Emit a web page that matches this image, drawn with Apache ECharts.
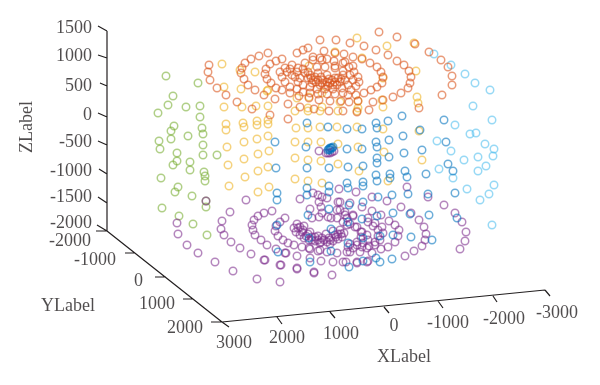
<!DOCTYPE html>
<html><head><meta charset="utf-8">
<style>html,body{margin:0;padding:0;background:#fff}#c{width:600px;height:385px}</style>
<script src="https://cdn.jsdelivr.net/npm/echarts@6/dist/echarts.min.js"></script>
</head><body><div id="c"></div>
<script>
// Sphere points, in projected plot units.
const greenPoints=[[166,76],[198,83],[173,96],[168,105],[158,113],[186,107],[200,106],[200,117],[174,126],[202,128],[171,131],[203,134],[188,136],[171,139],[159,141],[160,149],[203,145],[177,153],[203,155],[217,155],[177,161],[173,165],[190,162],[190,170],[204,172],[205,176],[205,181],[161,178],[178,187],[175,192],[192,196],[206,201],[206,207],[162,208],[179,216],[193,224],[207,235]];
const yellowPoints=[[222,64],[255,72],[240,70],[224,87],[241,89],[268,90],[224,107],[242,107],[256,106],[268,106],[226,124],[226,130],[243,123],[244,127],[257,121],[257,125],[268,120],[268,124],[244,142],[257,139],[268,136],[227,147],[258,154],[269,151],[244,159],[228,165],[258,171],[245,177],[268,167],[229,186],[258,192],[269,187],
[296,128],[308,128],[320,127],[337,127],[357,127],[295,142],[308,142],[321,142],[338,144],[358,147],[295,158],[308,160],[321,161],[338,164],[359,171],[295,179],[308,181],[322,183],[295,111],[308,111],[320,111],[338,111],[357,111],[297,98],[309,97],[322,93],[340,102],[358,101],[382,100],[322,107],[308,108],[358,108],[383,107],[309,66],[335,52],[357,38],[387,46],[414,43],[416,71],[417,97],[418,103],[383,78],[362,58],[383,129],[419,131],[384,152],[422,160],[388,181],[267,91]];
const lightBluePoints=[[437,141],[455,125],[451,151],[470,134],[476,133],[485,144],[494,149],[493,156],[478,157],[464,160],[492,120],[473,106],[490,90],[475,83],[465,74],[451,65],[434,54],[439,169],[453,178],[486,166],[478,171],[494,185],[489,194],[480,200],[467,189],[492,225]];
const purplePoints=[[206,201],[246,200],[230,212],[222,221],[221,229],[224,235],[231,242],[240,248],[251,254],[264,260],[281,265],[297,269],[314,272],[332,275],[177,223],[178,234],[187,245],[198,253],[215,262],[233,271],[257,279],[280,282],
[272,211],[264,213],[258,216],[254,220],[252,225],[253,230],[255,235],[261,240],[267,245],[276,249],[286,253],[297,256],[310,258],[321,261],[333,262],[343,262],
[285,218],[280,222],[276,226],[275,231],[278,236],[283,240],[288,243],[294,245],[302,247],[310,249],[318,251],[327,252],[337,253],[347,252],
[297,224],[294,228],[296,232],[300,235],[304,238],[309,240],[315,241],[321,242],[327,242],[333,241],[338,239],[342,237],[344,233],[340,230],[335,235],[329,238],[322,238],[315,237],[308,234],[303,230],[300,227],[304,226],[310,232],[318,236],[326,234],[333,231],[338,234],[312,240],[320,243],[330,244],[298,228],[302,232],[306,236],[312,237],[318,240],[324,240],[330,240],[336,237],[341,234],
[300,199],[313,193],[319,202],[327,198],[339,189],[338,202],[321,207],[310,209],[319,217],[331,218],[340,210],[347,218],[322,197],[312,218],[318,195],
[337,210],[345,215],[353,215],[368,218],[375,223],[382,227],[383,233],[380,240],[375,245],[367,248],[360,252],[350,252],[322,213],[328,217],[337,218],[347,225],[355,227],[362,232],[367,235],[368,240],[363,243],[357,245],[348,247],
[265,260],[280,265],[297,268],[314,273],[357,262],[367,262],[320,250],[309,248],[285,253],
[407,187],[428,197],[444,205],[455,213],[462,222],[466,232],[465,241],[460,249],[356,192],[372,197],[387,201],[401,207],[411,213],[419,220],[424,227],[426,234],[425,240],[422,246],[414,251],[405,256],[388,247],[381,249],[372,253],[368,261],[357,263],[346,262],
[350,203],[362,207],[372,211],[381,215],[389,221],[395,225],[399,230],[398,236],[395,242],[345,212],[353,216],[368,222],[373,226],[378,230],[378,236],[375,242],[369,246],[362,247],[353,248],[340,202],
[343,222],[350,224],[357,227],[361,232],[361,237],[357,242],[350,244],
[319,151],[326,153],[328,153],[330,153],[332,152],[334,151]];
const bluePoints=[[307,123],[328,127],[347,129],[362,129],[376,123],[377,128],[388,121],[402,116],[275,142],[306,147],[347,149],[362,149],[376,142],[377,147],[389,140],[403,136],[404,153],[389,157],[377,158],[377,163],[420,130],[422,150],[444,120],[446,142],
[276,168],[307,168],[329,168],[348,167],[363,166],[405,171],[407,177],[390,174],[390,178],[376,175],[377,181],[363,182],[363,186],[347,183],[348,188],[408,194],[392,195],[378,197],[363,202],[349,205],[428,194],[455,193],[448,164],[453,171],[426,174],
[277,193],[277,200],[307,188],[307,195],[329,186],[329,192],[329,209],[308,215],[277,225],[309,238],[331,229],[278,252],[310,262],[331,251],[348,243],[349,267],[429,215],[457,218],[410,214],[393,213],[377,216],[362,219],[348,222],[411,237],[432,240],[393,235],[380,236],[363,238],[392,259],[380,262],[376,258],[363,261],
[329,149],[330,148],[331,148],[332,148],[333,147],[328,150],[330,150]];
const orangePoints=[[209,65],[208,72],[210,80],[217,88],[226,95],[237,102],[252,109],[270,115],[288,119],
[268,53],[259,56],[251,59],[245,63],[242,68],[241,73],[244,79],[248,85],[255,90],[264,95],[275,99],[288,104],[300,107],[314,109],[329,111],[343,111],
[282,59],[276,61],[270,64],[266,69],[265,74],[267,79],[271,83],[276,88],[282,90],[290,93],[299,96],[309,98],[319,100],[330,101],[341,101],
[297,53],[303,50],[308,48],[320,40],[336,40],[350,43],[313,57],[324,51],[335,53],[344,54],[353,57],[322,60],[334,61],[345,62],[353,66],
[379,32],[397,37],[415,44],[429,52],[441,60],[448,67],[452,76],[452,85],[442,95],[419,108],[364,46],[376,50],[388,55],[397,61],[404,65],[409,71],[411,77],[410,83],[408,88],[401,93],[393,97],[383,100],[373,102],[369,110],[358,101],[357,112],[349,102],
[362,59],[370,63],[377,67],[381,72],[383,77],[382,83],[377,87],[371,90],[364,93],[356,95],[348,95],
[280,72],[282,77],[285,82],[290,87],[297,89],[303,92],[310,93],[318,94],[327,94],[335,94],[343,93],[351,90],[356,86],[359,82],[358,77],[354,72],[349,67],[343,63],[335,66],[327,59],[285,68],[292,65],[298,68],[305,63],[313,60],[320,58],
[297,72],[295,77],[298,82],[303,85],[310,87],[317,89],[325,89],[333,89],[342,88],[348,85],[353,80],[350,75],[343,71],[335,68],[325,67],[317,67],[303,69],[287,72],[290,69],[292,75],[300,78],[305,73],
[308,72],[308,78],[313,80],[322,83],[330,83],[338,78],[343,75],[335,78],[327,75],[318,73],[315,77],[323,80],[332,80],[340,82],[345,80],[310,75],[318,80],[327,82],[335,82],[312,83],[320,85],[328,86],[337,85],[311,78],[316,82],[325,85],[333,85],[341,79],[329,79],[321,77]];

// Box edges and ticks.
const zAxisLine=[[107,31],[107,231]];
const yAxisLine=[[107,231],[222,322]];
const xAxisLine=[[222,322],[545,290]];
const zTicks=[[[98,26],[107,31]],[[98,55],[107,58]],[[100,83],[107,86]],[[98,113],[107,117]],[[98,141],[107,145]],[[99,169],[107,174]],[[98,197],[107,203]],[[97,225],[107,231]]];
const yTicks=[[[96,231],[107,231]],[[125,253],[135,253]],[[155,277],[166,277]],[[183,299],[193,299]],[[211,322],[222,322]]];
const xTicks=[[[222,322],[229,327]],[[277,317],[282,324]],[[330,312],[335,318]],[[384,307],[389,313]],[[438,301],[443,308]],[[493,296],[497,302]],[[545,290],[550,296]]];

// Tick labels: [x, y, text].
const zLabels=[[92,28,'1500'],[92,56,'1000'],[92,86,'500'],[92,115,'0'],[92,142,'-500'],[92,171,'-1000'],[92,197,'-1500'],[92,223,'-2000']];
const yLabels=[[91,241,'-2000'],[116,260,'-1000'],[143,281,'0'],[175,304,'1000'],[203,328,'2000']];
const xLabels=[[234,343,'3000'],[287,338,'2000'],[341,334,'1000'],[394,326,'0'],[448,323,'-1000'],[504,319,'-2000'],[557,313,'-3000']];
const axisTitles=[[404,357,'XLabel',0],[68,306,'YLabel',0],[27,127,'ZLabel',90]];

const ink='#231f20', fontSize=18, fontFamily='"Liberation Serif", serif';
const joined=lists=>lists.flatMap((l,i)=>i?[['-','-'],...l]:l);
const ring=(name,data,color)=>({type:'scatter',name,data,symbol:'circle',symbolSize:7.5,silent:true,
  itemStyle:{color:'transparent',borderColor:color,borderWidth:1.5,opacity:.58}});
const text=(data,align)=>({type:'scatter',data:data.map(d=>({value:[d[0],d[1]],label:{formatter:d[2]}})),symbolSize:0,silent:true,
  label:{show:true,position:[0,0],align,verticalAlign:'middle',color:ink,fontSize,fontFamily}});

echarts.init(document.getElementById('c'),null,{renderer:'canvas'}).setOption({
  animation:false,backgroundColor:'#fff',
  grid:{left:0,right:0,top:0,bottom:0},
  xAxis:{type:'value',min:0,max:600,show:false},
  yAxis:{type:'value',min:0,max:385,inverse:true,show:false},
  series:[
    {type:'line',data:joined([zAxisLine,yAxisLine,xAxisLine,...zTicks,...yTicks,...xTicks]),symbol:'none',silent:true,connectNulls:false,
     lineStyle:{color:ink,width:1.2}},
    ring('yellow',yellowPoints,'#EDB120'),
    ring('green',greenPoints,'#77AC30'),
    ring('lightblue',lightBluePoints,'#4DBEEE'),
    ring('purple',purplePoints,'#7E2F8E'),
    ring('blue',bluePoints,'#0072BD'),
    ring('orange',orangePoints,'#D95319'),
    text(zLabels,'right'),text(yLabels,'right'),text(xLabels,'center'),
    {type:'scatter',symbolSize:0,silent:true,
     data:axisTitles.map(d=>({value:[d[0],d[1]],label:{formatter:d[2],rotate:d[3]}})),
     label:{show:true,position:[0,0],align:'center',verticalAlign:'middle',color:ink,fontSize,fontFamily}}
  ]
});
</script></body></html>
